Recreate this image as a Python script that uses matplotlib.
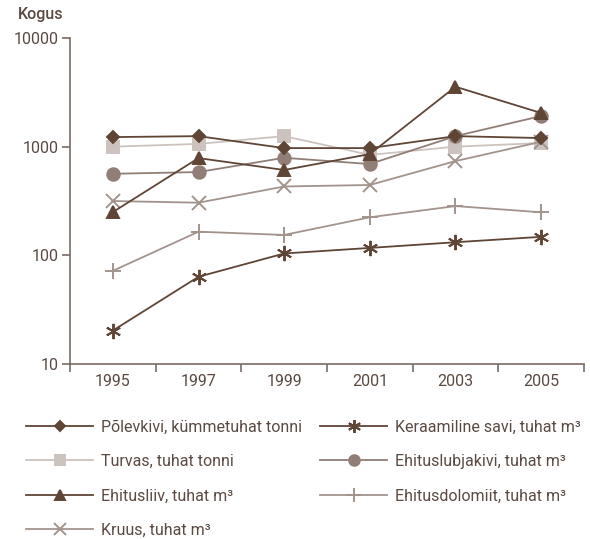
import matplotlib
matplotlib.use("Agg")
import matplotlib.pyplot as plt
from matplotlib.ticker import FixedLocator, FixedFormatter, NullLocator

plt.rcParams["font.family"] = ["Roboto", "DejaVu Sans"]

years = ["1995", "1997", "1999", "2001", "2003", "2005"]

polevkivi = [1225, 1250, 970, 970, 1250, 1200]
turvas = [1000, 1060, 1250, 840, 1000, 1080]
ehitusliiv = [250, 785, 610, 855, 3560, 2040]
lubjakivi = [563, 584, 790, 692, 1250, 1914]
kruus = [316, 305, 430, 444, 737, 1110]
dolomiit = [72, 165, 154, 224, 284, 249]
savi = [20.3, 63.5, 104, 117, 132, 148]

labels = [
    "Põlevkivi, kümmetuhat tonni",
    "Turvas, tuhat tonni",
    "Ehitusliiv, tuhat m³",
    "Kruus, tuhat m³",
    "Keraamiline savi, tuhat m³",
    "Ehituslubjakivi, tuhat m³",
    "Ehitusdolomiit, tuhat m³",
]

DARK = "#5f4536"
MID = "#917f77"
LIGHT = "#cdc3be"
GREY = "#a2948d"
TXT = "#5a4a42"

fig = plt.figure(figsize=(5.90, 5.39), dpi=100)
ax = fig.add_axes([70 / 590, 1 - 364 / 539, 514 / 590, 326 / 539])

x = list(range(len(years)))
series = [
    (polevkivi, DARK, "D", 6),
    (turvas, LIGHT, "s", 8),
    (ehitusliiv, DARK, "^", 8),
    (kruus, GREY, "x", 10),
    (savi, DARK, (6, 2, 0), 11),
    (lubjakivi, MID, "o", 9),
    (dolomiit, GREY, "+", 12),
]
# draw order so that darker lines sit on top like the original
order = [1, 3, 6, 5, 2, 4, 0]
handles = [None] * len(series)
for i in order:
    vals, col, mk, ms = series[i]
    (ln,) = ax.plot(x, vals, color=col, marker=mk, markersize=ms, lw=1.3,
                    mew=1.4, label=labels[i])
    handles[i] = ln

ax.set_yscale("log")
ax.set_ylim(10, 10000)
ax.set_xlim(-0.5, 5.5)
ax.yaxis.set_major_locator(FixedLocator([10, 100, 1000, 10000]))
ax.yaxis.set_major_formatter(FixedFormatter(["10", "100", "1000", "10000"]))
ax.yaxis.set_minor_locator(NullLocator())

ax.set_xticks(x)
ax.set_xticklabels(years)
ax.set_xticks([i - 0.5 for i in range(len(years) + 1)], minor=True)
ax.tick_params(axis="x", which="major", length=0, pad=7, labelsize=11.5, labelcolor=TXT)
ax.tick_params(axis="x", which="minor", length=6, width=1.2, color="#7a6a62", direction="out")
ax.tick_params(axis="y", which="major", length=6, width=1.2, color="#7a6a62",
               labelsize=11.5, labelcolor=TXT, pad=2)

for s in ["top", "right"]:
    ax.spines[s].set_visible(False)
for s in ["left", "bottom"]:
    ax.spines[s].set_color("#7a6a62")
    ax.spines[s].set_linewidth(1.2)

fig.text(18 / 590, 1 - 15 / 539, "Kogus", fontsize=11.5, fontweight="medium",
         color=TXT, va="center", ha="left")

fig.legend(handles=handles, labels=labels, ncol=2, frameon=False,
           loc="upper left", bbox_to_anchor=(12 / 590, 1 - 405 / 539),
           handlelength=4.2, handletextpad=0.5, columnspacing=1.1,
           labelspacing=1.22, fontsize=11.5, labelcolor=TXT, markerscale=0.85)

fig.savefig("out.png", dpi=100)
